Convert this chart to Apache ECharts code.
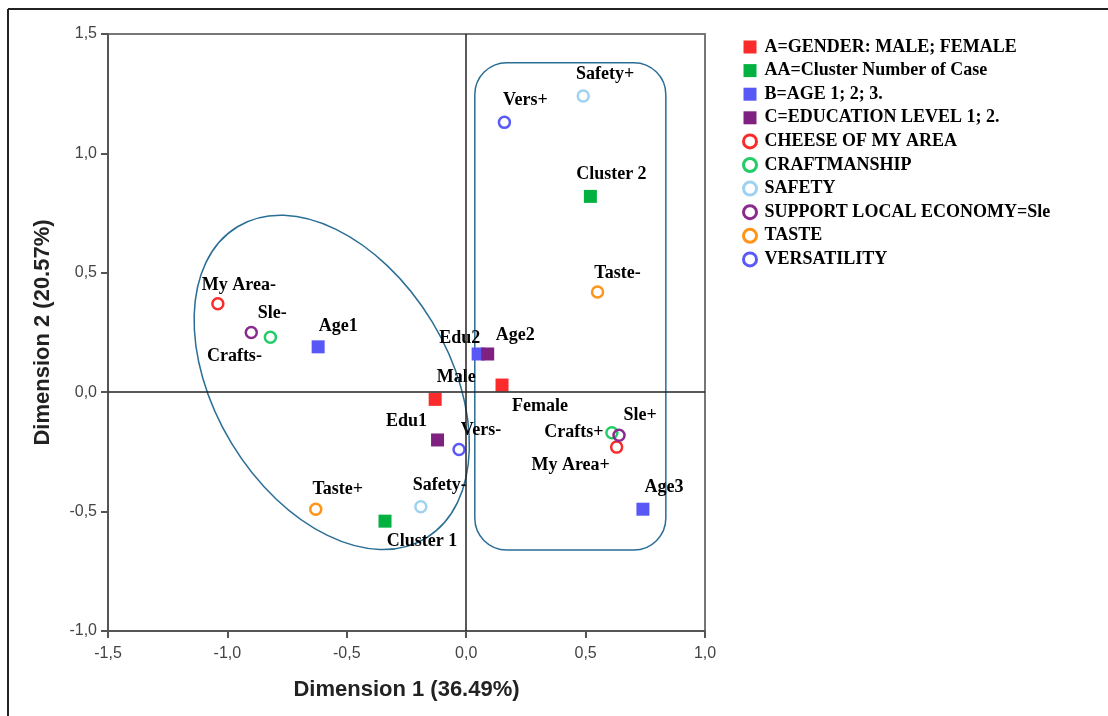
<!DOCTYPE html>
<html>
<head>
<meta charset="utf-8">
<script src="https://cdn.jsdelivr.net/npm/echarts@6/dist/echarts.min.js"></script>
<style>
  html, body { margin: 0; padding: 0; background: #fff; }
  #chart-container { width: 1108px; height: 716px; }
</style>
</head>
<body>
<div id="chart-container"></div>
<script>
// category coordinates [dimension 1, dimension 2]
var genderPts = [[-0.13, -0.03], [0.15, 0.03]];
var genderNames = ['Male', 'Female'];
var clusterPts = [[-0.34, -0.54], [0.52, 0.82]];
var clusterNames = ['Cluster 1', 'Cluster 2'];
var agePts = [[-0.62, 0.19], [0.05, 0.16], [0.74, -0.49]];
var ageNames = ['Age1', 'Age2', 'Age3'];
var eduPts = [[-0.12, -0.20], [0.09, 0.16]];
var eduNames = ['Edu1', 'Edu2'];
var areaPts = [[-1.04, 0.37], [0.63, -0.23]];
var areaNames = ['My Area-', 'My Area+'];
var craftPts = [[-0.82, 0.23], [0.61, -0.17]];
var craftNames = ['Crafts-', 'Crafts+'];
var safetyPts = [[-0.19, -0.48], [0.49, 1.24]];
var safetyNames = ['Safety-', 'Safety+'];
var slePts = [[-0.90, 0.25], [0.64, -0.18]];
var sleNames = ['Sle-', 'Sle+'];
var tastePts = [[-0.63, -0.49], [0.55, 0.42]];
var tasteNames = ['Taste+', 'Taste-'];
var versPts = [[-0.03, -0.24], [0.16, 1.13]];
var versNames = ['Vers-', 'Vers+'];

var legendNames = [
    'A=GENDER: MALE; FEMALE',
    'AA=Cluster Number of Case',
    'B=AGE 1; 2; 3.',
    'C=EDUCATION LEVEL 1; 2.',
    'CHEESE OF MY AREA',
    'CRAFTMANSHIP',
    'SAFETY',
    'SUPPORT LOCAL ECONOMY=Sle',
    'TASTE',
    'VERSATILITY'
];

// label placement (pixels from the marker centre)
var labelOffset = {
    'Male': [21, -22], 'Female': [38, 21],
    'Cluster 1': [37, 20], 'Cluster 2': [21, -22],
    'Age1': [20, -20], 'Age2': [37, -19], 'Age3': [21, -22],
    'Edu1': [-31, -19], 'Edu2': [-28, -16],
    'My Area-': [21, -19], 'My Area+': [-46, 18],
    'Crafts-': [-36, 19], 'Crafts+': [-38, 0],
    'Safety-': [19, -21], 'Safety+': [22, -22],
    'Sle-': [21, -19], 'Sle+': [21, -20],
    'Taste+': [22, -20], 'Taste-': [20, -19],
    'Vers-': [22, -19], 'Vers+': [21, -22]
};

// outlined groups, in data units
var ellipseShape = { cx: -0.563, cy: 0.041, a: 0.762, b: 0.491, angle: -58.8 };
var boxShape = { x0: 0.036, x1: 0.836, y0: -0.661, y1: 1.380 };

var colors = ['#fb2b2b', '#03b141', '#5858f6', '#7f2180',
              '#fb2b2b', '#22cc66', '#9fd2f0', '#8a2a8c', '#ff9418', '#5a5af8'];

var chart = echarts.init(document.getElementById('chart-container'));

function makeSeries(idx, pts, names, square) {
    var c = colors[idx];
    return {
        type: 'scatter',
        name: legendNames[idx],
        symbol: square ? 'rect' : 'circle',
        symbolSize: square ? 13 : 11,
        itemStyle: square ? { color: c, opacity: 1 } :
            { color: 'rgba(255,255,255,0)', borderColor: c, borderWidth: 2.5, opacity: 1 },
        label: {
            show: true,
            position: 'inside',
            formatter: '{b}',
            color: '#000',
            fontFamily: 'Liberation Serif',
            fontWeight: 'bold',
            fontSize: 18
        },
        emphasis: { disabled: true },
        z: 3,
        data: pts.map(function (p, i) {
            return { value: p, name: names[i], label: { offset: labelOffset[names[i]] } };
        })
    };
}

var series = [
    makeSeries(0, genderPts, genderNames, true),
    makeSeries(1, clusterPts, clusterNames, true),
    makeSeries(2, agePts, ageNames, true),
    makeSeries(3, eduPts, eduNames, true),
    makeSeries(4, areaPts, areaNames, false),
    makeSeries(5, craftPts, craftNames, false),
    makeSeries(6, safetyPts, safetyNames, false),
    makeSeries(7, slePts, sleNames, false),
    makeSeries(8, tastePts, tasteNames, false),
    makeSeries(9, versPts, versNames, false)
];

// reference lines through the origin
series[0].markLine = {
    silent: true,
    symbol: ['none', 'none'],
    label: { show: false },
    lineStyle: { color: '#222', width: 1.5, type: 'solid' },
    data: [{ xAxis: 0 }, { yAxis: 0 }]
};

var tickFmt = function (v) { return v.toFixed(1).replace('.', ','); };

var axisCommon = {
    type: 'value',
    interval: 0.5,
    nameLocation: 'middle',
    nameTextStyle: { fontFamily: 'Liberation Sans', fontWeight: 'bold', fontSize: 22, color: '#222' },
    axisLine: { show: true, onZero: false, lineStyle: { color: '#555', width: 2 } },
    axisTick: { show: true, length: 7, lineStyle: { color: '#555', width: 2 } },
    axisLabel: { formatter: tickFmt, fontFamily: 'Liberation Sans', fontSize: 16, color: '#444' },
    splitLine: { show: false }
};

option = {
    backgroundColor: '#fff',
    animation: false,
    grid: { left: 108, right: 403, top: 34, bottom: 85, show: true, borderColor: '#777', borderWidth: 2 },
    xAxis: Object.assign({}, axisCommon, {
        min: -1.5, max: 1.0,
        name: 'Dimension 1 (36.49%)', nameGap: 48,
        axisLabel: Object.assign({}, axisCommon.axisLabel, { margin: 15 })
    }),
    yAxis: Object.assign({}, axisCommon, {
        min: -1.0, max: 1.5,
        name: 'Dimension 2 (20.57%)', nameGap: 54,
        axisLabel: Object.assign({}, axisCommon.axisLabel, { margin: 11 })
    }),
    legend: {
        orient: 'vertical',
        left: 737,
        top: 32,
        itemWidth: 13,
        itemHeight: 13,
        itemGap: 3.6,
        textStyle: { fontFamily: 'Liberation Serif', fontWeight: 'bold', fontSize: 18, color: '#000', lineHeight: 20, padding: [0, 0, 0, 3] },
        data: legendNames.map(function (n, i) {
            return i < 4 ?
                { name: n, icon: 'rect', itemStyle: { color: colors[i], borderWidth: 0, opacity: 1 } } :
                { name: n, icon: 'circle', itemStyle: { color: '#fff', borderColor: colors[i], borderWidth: 3, opacity: 1 } };
        })
    },
    series: series
};

chart.setOption(option);

// draw the outlined groups from data-space anchors
var c0 = chart.convertToPixel({ gridIndex: 0 }, [ellipseShape.cx, ellipseShape.cy]);
var ca = chart.convertToPixel({ gridIndex: 0 }, [ellipseShape.cx + ellipseShape.a, ellipseShape.cy]);
var cb = chart.convertToPixel({ gridIndex: 0 }, [ellipseShape.cx + ellipseShape.b, ellipseShape.cy]);
var b0 = chart.convertToPixel({ gridIndex: 0 }, [boxShape.x0, boxShape.y1]);
var b1 = chart.convertToPixel({ gridIndex: 0 }, [boxShape.x1, boxShape.y0]);

chart.setOption({
    graphic: {
        elements: [
            {
                type: 'ellipse',
                x: c0[0], y: c0[1],
                rotation: ellipseShape.angle * Math.PI / 180,
                shape: { cx: 0, cy: 0, rx: ca[0] - c0[0], ry: cb[0] - c0[0] },
                style: { fill: 'none', stroke: '#2a6e96', lineWidth: 1.5 },
                silent: true, z: 1
            },
            {
                type: 'rect',
                shape: { x: b0[0], y: b0[1], width: b1[0] - b0[0], height: b1[1] - b0[1], r: 32 },
                style: { fill: 'none', stroke: '#2a6e96', lineWidth: 1.5 },
                silent: true, z: 1
            },
            // page frame (top and left edges)
            { type: 'line', shape: { x1: 8, y1: 9, x2: 1108, y2: 9 }, style: { stroke: '#222', lineWidth: 2 }, silent: true },
            { type: 'line', shape: { x1: 8, y1: 9, x2: 8, y2: 716 }, style: { stroke: '#222', lineWidth: 2 }, silent: true }
        ]
    }
});
</script>
</body>
</html>
